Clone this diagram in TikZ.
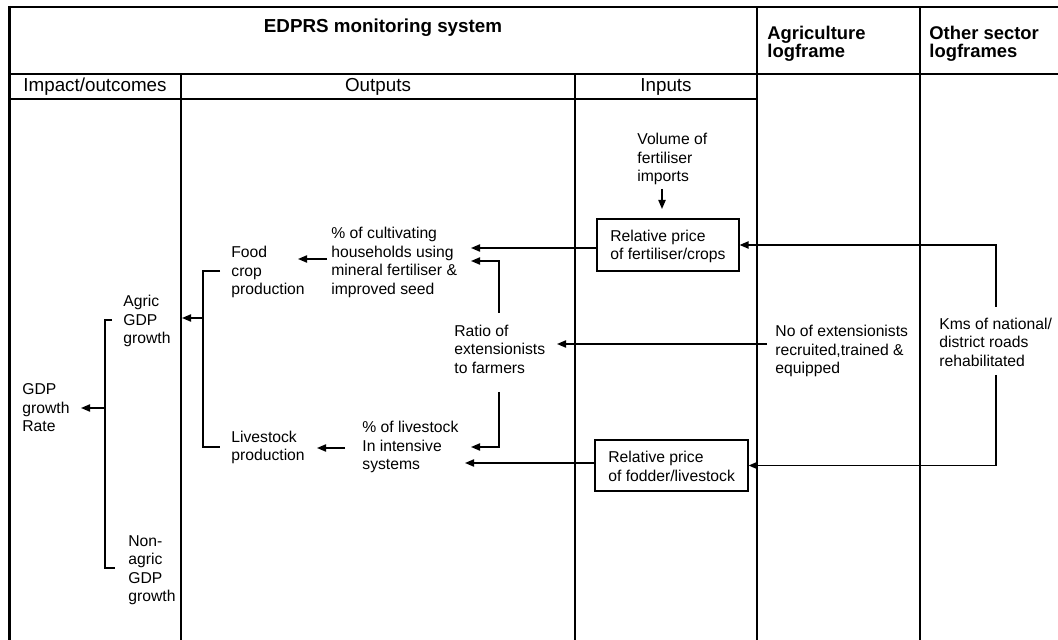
\documentclass[tikz,border=0pt]{standalone}
\usepackage{fontspec}
\setmainfont{Liberation Sans}
\usetikzlibrary{arrows.meta}
\begin{document}
\begin{tikzpicture}[x=0.5pt,y=-0.5pt,
  tbl/.style={line width=0.65pt},
  conn/.style={line width=0.75pt},
  arr/.style={conn,-{Triangle[length=4.5pt,width=3.6pt]}},
  txt/.style={font=\fontsize{7.85}{9.25}\selectfont, align=left, inner sep=0pt, anchor=west},
  hdr/.style={font=\fontsize{9.4}{11}\selectfont, inner sep=0pt},
  bhdr/.style={font=\bfseries\fontsize{9.2}{9.2}\selectfont, inner sep=0pt, align=left, anchor=west},
  pbox/.style={draw, line width=0.55pt, inner sep=0pt}]
\useasboundingbox (0,0) rectangle (1058,640);
% table
\draw[line width=1pt] (8,7) -- (1058,7);
\draw[line width=1.5pt] (9,6) -- (9,640);
\draw[tbl] (9,74) -- (1058,74);
\draw[tbl] (9,99) -- (757,99);
\draw[tbl] (181,74) -- (181,640);
\draw[tbl] (575,74) -- (575,640);
\draw[tbl] (757,7) -- (757,640);
\draw[tbl] (920,7) -- (920,640);
% headers
\node[hdr, font=\bfseries\fontsize{9.4}{11}\selectfont] (edprs) at (383,28) {EDPRS monitoring system};
\node[bhdr] (agr) at (767,44) {Agriculture\\logframe};
\node[bhdr] (oth) at (929,44) {Other sector\\logframes};
\node[hdr] (imp) at (95,87) {Impact/outcomes};
\node[hdr] (outp) at (378,87) {Outputs};
\node[hdr] (inp) at (666,87) {Inputs};
% body texts
\node[txt] (gdp) at (22,408) {GDP\\growth\\Rate};
\node[txt] (agric) at (123,321) {Agric\\GDP\\growth};
\node[txt] (nonag) at (128,570) {Non-\\agric\\GDP\\growth};
\node[txt] (food) at (231,272) {Food\\crop\\production};
\node[txt] (live) at (231,447.5) {Livestock\\production};
\node[txt] (cult) at (331,262.5) {\% of cultivating\\households using\\mineral fertiliser \&\\improved seed};
\node[txt] (ratio) at (454,349) {Ratio of\\extensionists\\to farmers};
\node[txt] (plive) at (362,447) {\% of livestock\\In intensive\\systems};
\node[txt] (vol) at (637,159) {Volume of\\fertiliser\\imports};
\node[pbox, minimum width=71pt, minimum height=26pt] (box1) at (668,245) {};
\node[txt] (box1t) at (610,246.5) {Relative price\\of fertiliser/crops};
\node[pbox, minimum width=76.5pt, minimum height=25.5pt] (box2) at (671.5,465.5) {};
\node[txt] (box2t) at (608,466.5) {Relative price\\of fodder/livestock};
\node[txt] (ext) at (775,351) {No of extensionists\\recruited,trained \&\\equipped};
\node[txt] (kms) at (939,342) {Kms of national/\\district roads\\rehabilitated};
% coordinates
\coordinate (v1) at (662,189); \coordinate (v2) at (662,209);
\coordinate (k1) at (996,307); \coordinate (k2) at (996,375);
\coordinate (c1) at (471,248); \coordinate (c2) at (471,261);
\coordinate (r1) at (499,313); \coordinate (r2) at (499,392);
\coordinate (p1) at (471,447); \coordinate (p2) at (465,463);
\coordinate (e1) at (767,344); \coordinate (r3) at (557,344);
\coordinate (cf1) at (327,259); \coordinate (cf2) at (298,259);
\coordinate (pl1) at (345,448); \coordinate (pl2) at (317,448);
\coordinate (fb1) at (220,271); \coordinate (fb2) at (220,447);
\coordinate (fa1) at (203,318); \coordinate (fa2) at (182,318);
\coordinate (gb1) at (112,320); \coordinate (gb2) at (115,568);
\coordinate (ga1) at (105,408); \coordinate (ga2) at (81,408);
% connectors
\draw[arr] (v1) -- (v2);
\draw[arr] (k1) |- (box1.east);
\draw[arr] (k2) |- (box2.east);
\draw[arr] (box1.west |- c1) -- (c1);
\draw[arr] (r1) |- (c2);
\draw[arr] (r2) |- (p1);
\draw[arr] (e1) -- (r3);
\draw[arr] (box2.west |- p2) -- (p2);
\draw[arr] (cf1) -- (cf2);
\draw[arr] (pl1) -- (pl2);
\draw[conn] (fb1) -| (fa1) |- (fb2);
\draw[arr] (fa1) -- (fa2);
\draw[conn] (gb1) -| (ga1) |- (gb2);
\draw[arr] (ga1) -- (ga2);
\end{tikzpicture}
\end{document}
